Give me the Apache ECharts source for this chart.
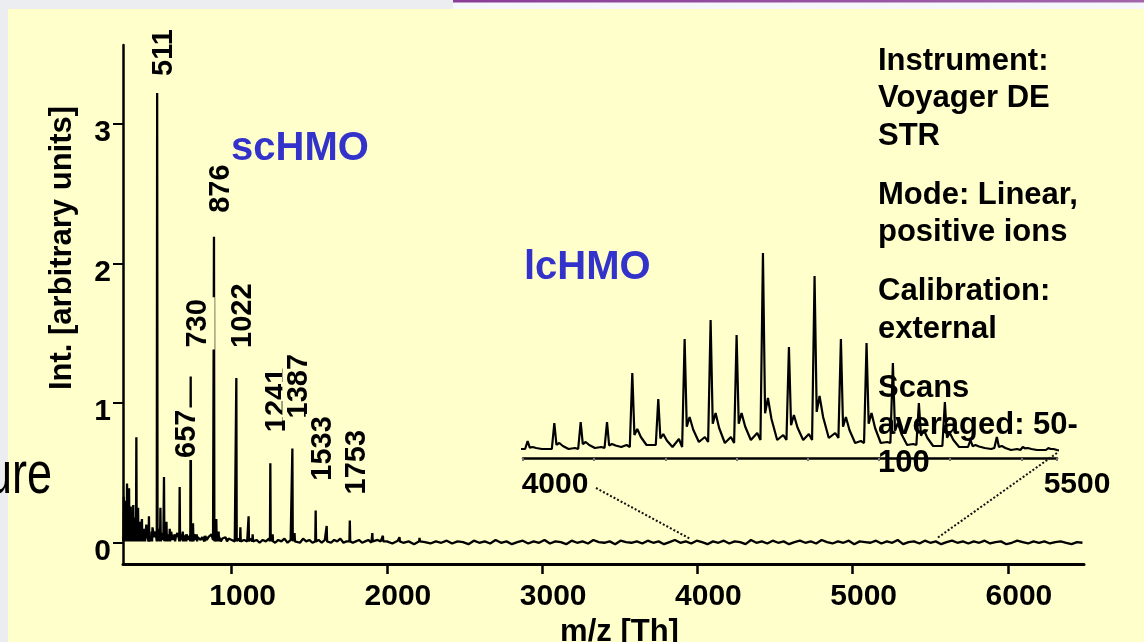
<!DOCTYPE html>
<html><head><meta charset="utf-8">
<script src="https://cdn.jsdelivr.net/npm/echarts@6/dist/echarts.min.js"></script>
<style>html,body{margin:0;padding:0;background:#ECEDF0}#c{width:1144px;height:642px}</style>
</head><body><div id="c"></div>
<script>
// ---------- data ----------
const xTicks = [1000, 2000, 3000, 4000, 5000, 6000];
const yTicks = [0, 1, 2, 3];
const insetTickLabels = [4000, 5500];

// labelled peaks (main spectrum)
const labelText = ['511', '657', '730', '876', '1022', '1241', '1387', '1533', '1753'];
const labelMz   = [520, 665, 736, 886, 1030, 1249, 1391, 1541, 1761];
const labelH    = [3.22, 0.40, 1.19, 2.19, 1.18, 0.57, 0.675, 0.23, 0.16];

// other peaks (main spectrum)
const minorMz = [305, 311, 326, 339, 350, 366, 386, 397, 408, 422, 440, 467, 485, 541, 564, 580, 601, 633, 685, 705, 751, 775, 826, 901, 916, 1056, 1109, 1135, 1264, 1405, 1612, 1906, 1974, 2081, 2210];
const minorH  = [0.33, 0.30, 0.425, 0.39, 0.26, 0.27, 0.755, 0.25, 0.15, 0.17, 0.10, 0.19, 0.08, 0.25, 0.47, 0.15, 0.10, 0.06, 0.08, 0.06, 0.14, 0.06, 0.05, 0.17, 0.08, 0.11, 0.19, 0.06, 0.06, 0.07, 0.12, 0.07, 0.05, 0.04, 0.035];

// baseline noise
const baseA = [ // m/z 300..990, every 10
  0.04,0.16,0.06,0.22,0.05,0.14,0.08,0.18,0.03,0.12,0.06,0.15,0.04,0.10,0.07,0.13,0.03,0.09,0.05,0.11,
  0.04,0.08,0.03,0.10,0.05,0.07,0.02,0.09,0.04,0.06,0.03,0.08,0.02,0.05,0.04,0.07,0.03,0.06,0.02,0.05,
  0.03,0.06,0.02,0.05,0.04,0.03,0.06,0.02,0.04,0.05,0.02,0.04,0.03,0.05,0.02,0.04,0.03,0.06,0.02,0.04,
  0.03,0.02,0.04,0.01,0.03,0.02,0.04,0.01,0.03,0.02];
const baseB = [ // m/z 1000..1980, every 20
  0.02,0.01,0.03,0.00,0.02,0.01,0.03,0.01,0.02,0.00,
  0.02,0.01,0.03,0.01,0.00,0.02,0.01,0.03,0.00,0.02,
  0.01,0.02,0.00,0.03,0.01,0.02,0.00,0.01,0.02,0.00,
  0.02,0.01,0.00,0.02,0.01,0.03,0.00,0.01,0.02,0.00,
  0.01,0.02,0.00,0.01,0.02,0.00,0.01,0.02,0.01,0.00];
const baseC = [ // m/z 2000..6480, every 35
  0.01,-0.005,0.015,0.0,0.01,-0.01,0.02,0.005,-0.005,0.01,
  0.0,0.015,-0.005,0.01,0.005,-0.01,0.015,0.0,0.01,-0.005,
  0.02,0.0,0.01,-0.01,0.005,0.015,-0.005,0.01,0.0,0.02,
  -0.005,0.01,0.005,-0.01,0.015,0.0,0.01,-0.005,0.02,0.005,
  0.0,0.01,-0.01,0.015,0.005,0.0,0.01,-0.005,0.015,0.0,
  0.01,-0.01,0.005,0.02,0.0,0.01,-0.005,0.015,0.005,-0.01,
  0.01,0.0,0.015,-0.005,0.01,0.005,-0.01,0.02,0.0,0.01,
  -0.005,0.015,0.0,0.01,-0.01,0.005,0.015,0.0,0.01,-0.005,
  0.02,0.005,-0.005,0.01,0.0,0.015,-0.01,0.01,0.005,0.0,
  0.015,-0.005,0.01,0.0,0.02,-0.01,0.005,0.01,-0.005,0.015,
  0.0,0.01,-0.01,0.005,0.015,0.0,0.01,-0.005,0.01,0.0,
  0.015,-0.005,0.005,0.01,-0.01,0.0,0.015,0.005,-0.005,0.01,
  0.0,0.01,-0.005,0.005,0.01,0.0,-0.01,0.005,0.0];

// inset (lcHMO, 4000-5500), arbitrary units
const insetMz       = [4013,4088,4162,4236,4307,4380,4454,4527,4600,4674,4747,4819,4893,4965,5039,5112,5185,5257,5331,5404,5476];
const insetH        = [8,26,27,27,76,50,110,129,114,196,102,173,110,106,86,46,47,9,12,2,1];
const insetShoulder = [2,6,7,5,20,15,32,36,36,51,34,53,32,36,26,19,16,4,3,1,0];
const insetValley   = [0,0,1,2,4,2,7,6,9,9,9,11,6,6,4,3,2,1,-1,-1,-2];
const insetPre      = [0,0,1,2,4,4,10,12,12,16,14,15,16,8,7,5,3,2,0,0,-1];
const insetStart = [3984, 0];
const insetEnd   = [5509, -4];

// zoom connectors: [inset point, main point]
const connLeft  = [[4205, -39], [3950, 0.03]];
const connRight = [[5500, -4], [5540, 0.03]];

const infoParas = [
  ['Instrument:', 'Voyager DE', 'STR'],
  ['Mode: Linear,', 'positive ions'],
  ['Calibration:', 'external'],
  ['Scans', 'averaged: 50-', '100']
];
const groupLabels = ['scHMO', 'lcHMO'];

// ---------- build traces ----------
const peaks = labelMz.map((m, i) => [m, labelH[i]])
  .concat(minorMz.map((m, i) => [m, minorH[i]]));
const base = [];
baseA.forEach((v, i) => base.push([300 + 10 * i, v]));
baseB.forEach((v, i) => base.push([1000 + 20 * i, v]));
baseC.forEach((v, i) => base.push([2000 + 35 * i, v]));
const mainPts = base.filter(p => !peaks.some(q => Math.abs(q[0] - p[0]) < 4));
peaks.forEach(q => { mainPts.push([q[0] - 2.5, 0.01], [q[0], q[1]], [q[0] + 2.5, 0.01]); });
mainPts.sort((a, b) => a[0] - b[0]);

const insetPts = [insetStart];
insetMz.forEach((m, i) => {
  const vp = i ? insetValley[i - 1] : 0;
  const v = insetValley[i], sh = insetShoulder[i];
  insetPts.push([m - 16, insetPre[i]], [m - 7, vp], [m, insetH[i]], [m + 6, sh * 0.7],
                [m + 14, sh], [m + 24, (sh + v) / 2], [m + 40, v]);
});
insetPts.push(insetEnd);

// ---------- chart ----------
const FF = '"Liberation Sans", Arial, Helvetica, sans-serif';
const YEL = '#FFFFCC';
const chart = echarts.init(document.getElementById('c'), null, {renderer: 'canvas'});
const option = {
  animation: false,
  backgroundColor: '#ECEDF0',
  grid: [
    {left: 123, right: 60, top: 45, height: 519, outerBoundsMode: 'none', containLabel: false},
    {left: 523, width: 534, top: 240, height: 218, outerBoundsMode: 'none', containLabel: false}
  ],
  xAxis: [
    {
      type: 'value', gridIndex: 0, min: 300, max: 6490,
      axisLine: {show: true, onZero: false, lineStyle: {color: '#000', width: 3}},
      axisTick: {show: true, customValues: xTicks, length: 10, lineStyle: {color: '#000', width: 2.5}},
      axisLabel: {customValues: xTicks, formatter: v => String(v), margin: 18, padding: [0, 0, 0, 22],
        color: '#000', fontSize: 30, fontWeight: 'bold', fontFamily: FF},
      splitLine: {show: false},
      name: 'm/z [Th]', nameLocation: 'middle', nameGap: 47,
      nameTextStyle: {color: '#000', fontSize: 31, fontWeight: 'bold', fontFamily: FF, padding: [0, 0, 0, 32]}
    },
    {
      type: 'value', gridIndex: 1, min: 4000, max: 5500, interval: 200,
      axisLine: {show: true, onZero: false, lineStyle: {color: '#000', width: 2.5}},
      axisTick: {show: true, length: 3, lineStyle: {color: '#777', width: 2}},
      axisLabel: {
        customValues: insetTickLabels, margin: 12, color: '#000', fontSize: 30, fontWeight: 'bold', fontFamily: FF,
        formatter: v => v === 4000 ? '{a|4000}' : '{b|5500}',
        rich: {
          a: {padding: [0, 0, 0, 64], fontSize: 30, fontWeight: 'bold', fontFamily: FF, color: '#000'},
          b: {padding: [0, 0, 0, 40], fontSize: 30, fontWeight: 'bold', fontFamily: FF, color: '#000'}
        }
      },
      splitLine: {show: false}
    }
  ],
  yAxis: [
    {
      type: 'value', gridIndex: 0, min: -0.152, max: 3.563,
      axisLine: {show: true, onZero: false, lineStyle: {color: '#000', width: 2.5}},
      axisTick: {show: true, customValues: yTicks, length: 10, lineStyle: {color: '#000', width: 2}},
      axisLabel: {customValues: yTicks, margin: 12, verticalAlign: 'top', lineHeight: 18,
        color: '#000', fontSize: 30, fontWeight: 'bold', fontFamily: FF},
      splitLine: {show: false},
      name: 'Int. [arbitrary units]', nameLocation: 'middle', nameGap: 45,
      nameTextStyle: {color: '#000', fontSize: 31, fontWeight: 'bold', fontFamily: FF, padding: [0, 0, 0, 113]}
    },
    {type: 'value', gridIndex: 1, min: -9, max: 209, show: false}
  ],
  series: [
    {
      type: 'line', xAxisIndex: 0, yAxisIndex: 0, data: mainPts, showSymbol: false, silent: true,
      lineStyle: {color: '#000', width: 2.3}
    },
    {
      type: 'line', xAxisIndex: 1, yAxisIndex: 1, data: insetPts, showSymbol: false, silent: true, clip: false,
      lineStyle: {color: '#000', width: 2.2}
    }
  ]
};
chart.setOption(option);

// ---------- annotations positioned through the axes ----------
const g = [];
g.push({type: 'rect', z: 0, shape: {x: 8, y: 9, width: 1136, height: 633}, style: {fill: YEL}});
g.push({type: 'rect', z: 0, shape: {x: 453, y: 2, width: 691, height: 7}, style: {fill: '#F5F7FA'}});
g.push({type: 'rect', z: 0, shape: {x: 453, y: 0, width: 691, height: 2.5},
  style: {fill: new echarts.graphic.LinearGradient(0, 0, 1, 0, [{offset: 0, color: '#8A3C97'}, {offset: 1, color: '#A364AB'}])}});
g.push({type: 'text', z: 1, x: 52, y: 476, scaleX: 0.75,
  style: {text: 'ure', font: '60px "Liberation Sans", Arial, sans-serif', fill: '#000', align: 'right', verticalAlign: 'middle'}});

const labelGap = [15, 27, 27, 22, 28, 29, 28, 28, 24];
labelText.forEach((t, i) => {
  const p = chart.convertToPixel({gridIndex: 0}, [labelMz[i], labelH[i]]);
  g.push({type: 'text', z: 50, x: p[0] + 7, y: p[1] - labelGap[i], rotation: Math.PI / 2,
    style: {text: t, font: 'bold 29px ' + FF, fill: '#000', align: 'left', verticalAlign: 'middle',
      backgroundColor: YEL, padding: [1, 2, 4, 2]}});
});

[connLeft, connRight].forEach(c => {
  const a = chart.convertToPixel({gridIndex: 1}, c[0]);
  const b = chart.convertToPixel({gridIndex: 0}, c[1]);
  g.push({type: 'polyline', z: 40, shape: {points: [a, b]},
    style: {stroke: '#111', lineWidth: 2, lineDash: [2, 2], fill: null}});
});

g.push({type: 'text', z: 50, x: 231, y: 149,
  style: {text: groupLabels[0], font: 'bold 40px ' + FF, fill: '#3333CC', align: 'left', verticalAlign: 'middle'}});
g.push({type: 'text', z: 50, x: 524, y: 268,
  style: {text: groupLabels[1], font: 'bold 40px ' + FF, fill: '#3333CC', align: 'left', verticalAlign: 'middle'}});

let yy = 61;
infoParas.forEach((para, pi) => {
  if (pi) yy += 21.5;
  para.forEach(line => {
    g.push({type: 'text', z: 45, x: 878, y: yy,
      style: {text: line, font: 'bold 31px ' + FF, fill: '#000', align: 'left', verticalAlign: 'middle'}});
    yy += 37.5;
  });
});

chart.setOption({graphic: g});
</script></body></html>
